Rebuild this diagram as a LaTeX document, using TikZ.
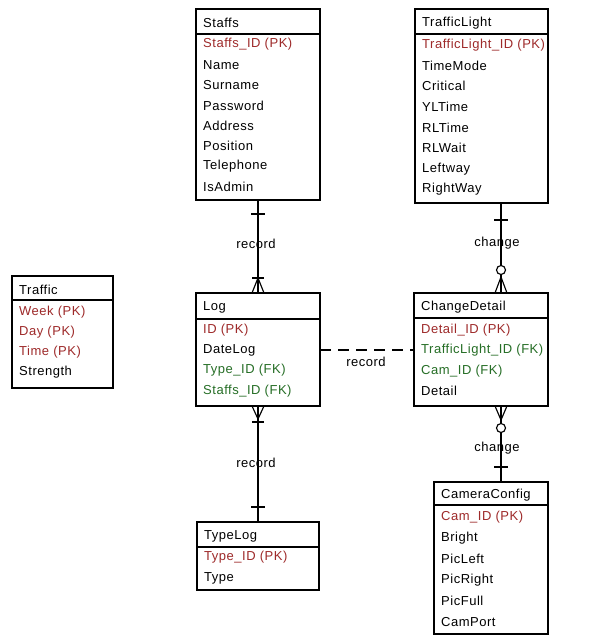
\documentclass[tikz,border=0pt]{standalone}
\usepackage{fontspec}
\setmainfont{Liberation Sans}[LetterSpace=4]
\usetikzlibrary{calc}
\definecolor{pkred}{RGB}{158,42,42}
\definecolor{fkgreen}{RGB}{38,110,38}
\tikzset{
  ent/.style={draw, line width=1.1pt, inner sep=0pt, outer sep=0pt, anchor=north west},
  entline/.style={line width=1.1pt},
  txt/.style={anchor=west, inner sep=0pt, font=\fontsize{13}{15}\selectfont},
  pk/.style={txt, text=pkred},
  fk/.style={txt, text=fkgreen},
  rel/.style={line width=1.15pt},
  rellabel/.style={inner sep=0pt, font=\fontsize{13}{15}\selectfont},
}
% entity box: name, x1, x2, ytop, yhead, ybot, title
\newcommand\erent[7]{%
  \node[ent, minimum width={(#3-#2)*1pt}, minimum height={(#6-#4)*1pt}] (#1) at (#2,#4) {};
  \draw[entline] (#2,#5) -- (#3,#5);
  \node[txt] (#1-title) at ({#2+7},{(#4+#5)/2+1.5}) {#7};
}
\begin{document}
\begin{tikzpicture}[x=1pt,y=-1pt]
\useasboundingbox[fill=white] (0,0) rectangle (591,637);

% ---------- entities ----------
\erent{staffs}{196}{320}{9}{34}{200}{Staffs}
\node[pk]  (staffs-1) at (203,44.5) {Staffs\_ID (PK)};
\node[txt] (staffs-2) at (203,65)   {Name};
\node[txt] (staffs-3) at (203,85)   {Surname};
\node[txt] (staffs-4) at (203,105.5){Password};
\node[txt] (staffs-5) at (203,126)  {Address};
\node[txt] (staffs-6) at (203,146)  {Position};
\node[txt] (staffs-7) at (203,166.5){Telephone};
\node[txt] (staffs-8) at (203,187)  {IsAdmin};

\erent{tl}{415}{548}{9}{34}{203}{TrafficLight}
\node[pk]  (tl-1) at (422,45)  {TrafficLight\_ID (PK)};
\node[txt] (tl-2) at (422,66)  {TimeMode};
\node[txt] (tl-3) at (422,86)  {Critical};
\node[txt] (tl-4) at (422,107) {YLTime};
\node[txt] (tl-5) at (422,128) {RLTime};
\node[txt] (tl-6) at (422,148) {RLWait};
\node[txt] (tl-7) at (422,169) {Leftway};
\node[txt] (tl-8) at (422,189) {RightWay};

\erent{traffic}{12}{113}{276}{300}{388}{Traffic}
\node[pk]  (traffic-1) at (19,312) {Week (PK)};
\node[pk]  (traffic-2) at (19,332) {Day (PK)};
\node[pk]  (traffic-3) at (19,352) {Time (PK)};
\node[txt] (traffic-4) at (19,372) {Strength};

\erent{log}{196}{320}{293}{319}{406}{Log}
\node[pk]  (log-1) at (203,330) {ID (PK)};
\node[txt] (log-2) at (203,350) {DateLog};
\node[fk]  (log-3) at (203,370) {Type\_ID (FK)};
\node[fk]  (log-4) at (203,391) {Staffs\_ID (FK)};

\erent{cd}{414}{548}{293}{318}{406}{ChangeDetail}
\node[pk]  (cd-1) at (421,330) {Detail\_ID (PK)};
\node[fk]  (cd-2) at (421,350) {TrafficLight\_ID (FK)};
\node[fk]  (cd-3) at (421,371) {Cam\_ID (FK)};
\node[txt] (cd-4) at (421,391) {Detail};

\erent{typelog}{197}{319}{522}{547}{590}{TypeLog}
\node[pk]  (typelog-1) at (204,557) {Type\_ID (PK)};
\node[txt] (typelog-2) at (204,578) {Type};

\erent{cam}{434}{548}{482}{505}{634}{CameraConfig}
\node[pk]  (cam-1) at (441,517) {Cam\_ID (PK)};
\node[txt] (cam-2) at (441,538) {Bright};
\node[txt] (cam-3) at (441,559) {PicLeft};
\node[txt] (cam-4) at (441,580) {PicRight};
\node[txt] (cam-5) at (441,601) {PicFull};
\node[txt] (cam-6) at (441,622) {CamPort};

% ---------- relationships ----------
\coordinate (lc) at (258,0);
\coordinate (rc) at (501,0);

% Staffs 1 -- N Log
\draw[rel] (lc |- staffs.south) -- (lc |- log.north);
\draw[rel] ($(lc |- staffs.south)+(-7,14)$) -- ++(14,0);
\draw[rel] ($(lc |- log.north)+(-6,-15)$) -- ++(12,0);
\draw[rel] ($(lc |- log.north)+(-6,0)$) -- ($(lc |- log.north)+(0,-15)$) -- ($(lc |- log.north)+(6,0)$);
\node[rellabel] (lab1) at (256,244) {record};

% Log N -- 1 TypeLog
\draw[rel] (lc |- log.south) -- (lc |- typelog.north);
\draw[rel] ($(lc |- log.south)+(-6,0)$) -- ($(lc |- log.south)+(0,13)$) -- ($(lc |- log.south)+(6,0)$);
\draw[rel] ($(lc |- log.south)+(-6,16)$) -- ++(12,0);
\draw[rel] ($(lc |- typelog.north)+(-7,-15)$) -- ++(14,0);
\node[rellabel] (lab2) at (256,463) {record};

% Log .. ChangeDetail
\draw[rel, dash pattern=on 11pt off 7pt] (log.east |- log-2) -- (cd.west |- log-2);
\node[rellabel] (lab3) at (366,362) {record};

% TrafficLight 1 -- N ChangeDetail
\draw[rel] (rc |- tl.south) -- (rc |- cd.north);
\draw[rel] ($(rc |- tl.south)+(-7,17)$) -- ++(14,0);
\draw[rel, fill=white] ($(rc |- cd.north)+(0,-23)$) circle (4.5);
\draw[rel] ($(rc |- cd.north)+(-6,0)$) -- ($(rc |- cd.north)+(0,-16)$) -- ($(rc |- cd.north)+(6,0)$);
\node[rellabel] (lab4) at (497,243) {change};

% ChangeDetail N -- 1 CameraConfig
\draw[rel] (rc |- cd.south) -- (rc |- cam.north);
\draw[rel] ($(rc |- cd.south)+(-6,0)$) -- ($(rc |- cd.south)+(0,14)$) -- ($(rc |- cd.south)+(6,0)$);
\draw[rel, fill=white] ($(rc |- cd.south)+(0,22)$) circle (4.5);
\draw[rel] ($(rc |- cam.north)+(-7,-15)$) -- ++(14,0);
\node[rellabel] (lab5) at (497,448) {change};
\end{tikzpicture}
\end{document}
